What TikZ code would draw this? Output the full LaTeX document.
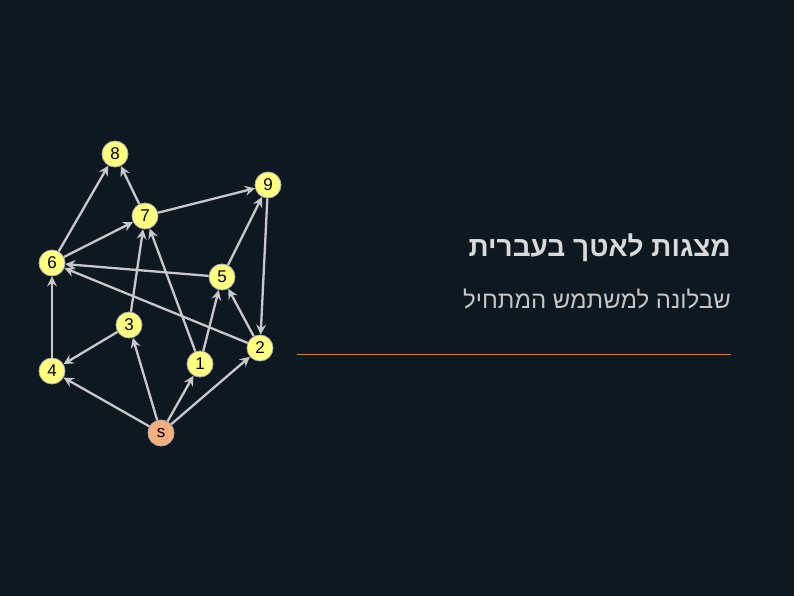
\documentclass[tikz,border=0pt]{standalone}
\usepackage{fontspec}
\setmainfont{Liberation Sans}
\newfontfamily\hebfont[Script=Hebrew]{Liberation Sans}
\TeXXeTstate=1
\usetikzlibrary{arrows.meta}
\definecolor{bgdark}{HTML}{0D1820}
\definecolor{vyellow}{HTML}{FFFF80}
\definecolor{vorange}{HTML}{F5AE7E}
\definecolor{edgegray}{HTML}{C8C8CC}
\definecolor{rulebrown}{HTML}{C08448}
\tikzset{
  vtx/.style={circle, draw=gray!60, line width=0.8pt, fill=vyellow, inner sep=0pt,
    minimum size=26pt, font=\fontsize{17}{17}\selectfont},
  src/.style={vtx, fill=vorange},
  arc/.style={draw=edgegray, line width=2.3pt, -{Stealth[length=10pt,width=10pt,inset=3.5pt]}},
}
\begin{document}
\begin{tikzpicture}[x=1pt,y=-1pt]
  \fill[bgdark] (0,0) rectangle (794,596);
  \useasboundingbox (0,0) rectangle (794,596);
  % vertices
  \foreach \n/\x/\y in {8/115/154, 9/268/185, 7/145/216, 6/52/263, 5/222/277,
                        3/129/325, 2/260/348, 1/200/364, 4/52/371}{
    \node[vtx] (v\n) at (\x,\y) {\n};
  }
  \node[src] (vs) at (161,433) {s};
  % arcs
  \foreach \a/\b in {s/4, s/3, s/1, s/2, 4/6, 3/4, 3/7, 1/7, 1/5,
                     2/5, 2/6, 5/6, 5/9, 9/2, 6/8, 6/7, 7/8, 7/9}{
    \draw[arc] (v\a) -- (v\b);
  }
  % title
  \node[anchor=east, inner sep=0pt, text=gray!30,
        font=\hebfont\bfseries\fontsize{28}{28}\selectfont]
    (title) at (731,248) {\beginR מצגות לאטך בעברית\endR};
  \node[anchor=east, inner sep=0pt, text=gray!45,
        font=\hebfont\fontsize{24}{24}\selectfont]
    (subtitle) at (731,299) {\beginR שבלונה למשתמש המתחיל\endR};
  \coordinate (ruleL) at (297,354);
  \coordinate (ruleR) at (731,354);
  \draw[rulebrown, line width=0.8pt] (ruleL) -- (ruleR);
\end{tikzpicture}
\end{document}
